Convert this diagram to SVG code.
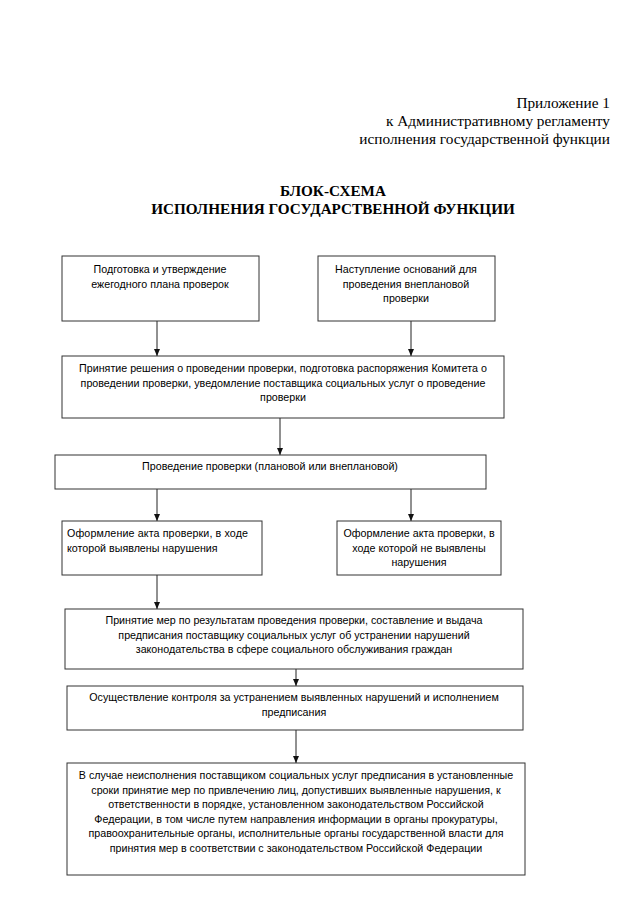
<svg xmlns="http://www.w3.org/2000/svg" width="640" height="905" viewBox="0 0 640 905">
<defs>
<marker id="ah" markerWidth="7" markerHeight="6" refX="7" refY="3" orient="auto" markerUnits="userSpaceOnUse" viewBox="0 0 7 6">
<path d="M0,0 L7,3 L0,6 Z" fill="#111"/>
</marker>
</defs>
<style>
.hdr{font-family:"Liberation Serif","Times New Roman",serif;font-size:15.3px;fill:#000}
.ttl{font-family:"Liberation Serif","Times New Roman",serif;font-size:15.2px;font-weight:bold;fill:#000}
.box{fill:#fff;stroke:#333;stroke-width:1}
.t{font-family:"Liberation Sans",Arial,sans-serif;font-size:10.7px;fill:#000;text-anchor:middle}
.tl{font-family:"Liberation Sans",Arial,sans-serif;font-size:10.7px;fill:#000}
.c{stroke:#222;stroke-width:1;fill:none}
</style>
<rect width="640" height="905" fill="#fff"/>
<g id="header" text-anchor="end">
<text class="hdr" x="610" y="108">Приложение 1</text>
<text class="hdr" x="610" y="126">к Административному регламенту</text>
<text class="hdr" x="610" y="144">исполнения государственной функции</text>
</g>
<g id="title" text-anchor="middle">
<text class="ttl" x="333" y="196">БЛОК-СХЕМА</text>
<text class="ttl" x="333" y="214">ИСПОЛНЕНИЯ ГОСУДАРСТВЕННОЙ ФУНКЦИИ</text>
</g>
<g id="connectors">
<line class="c" x1="157" y1="321" x2="157" y2="356" marker-end="url(#ah)"/>
<line class="c" x1="411" y1="321" x2="411" y2="356" marker-end="url(#ah)"/>
<line class="c" x1="280" y1="418" x2="280" y2="455" marker-end="url(#ah)"/>
<line class="c" x1="157" y1="489" x2="157" y2="521" marker-end="url(#ah)"/>
<line class="c" x1="411" y1="489" x2="411" y2="521" marker-end="url(#ah)"/>
<line class="c" x1="157" y1="575" x2="157" y2="609" marker-end="url(#ah)"/>
<line class="c" x1="296" y1="669" x2="296" y2="686" marker-end="url(#ah)"/>
<line class="c" x1="296" y1="730" x2="296" y2="763" marker-end="url(#ah)"/>
</g>
<g id="n1">
<rect class="box" x="62" y="256" width="197" height="65"/>
<text class="t" x="160" y="273">Подготовка и утверждение</text>
<text class="t" x="160" y="287.5">ежегодного плана проверок</text>
</g>
<g id="n2">
<rect class="box" x="318" y="256" width="177" height="65"/>
<text class="t" x="406" y="273">Наступление оснований для</text>
<text class="t" x="406" y="287.5">проведения внеплановой</text>
<text class="t" x="406" y="302">проверки</text>
</g>
<g id="n3">
<rect class="box" x="62" y="356" width="442" height="62"/>
<text class="t" x="283" y="372">Принятие решения о проведении проверки, подготовка распоряжения Комитета о</text>
<text class="t" x="283" y="386.5">проведении проверки, уведомление поставщика социальных услуг о проведение</text>
<text class="t" x="283" y="401">проверки</text>
</g>
<g id="n4">
<rect class="box" x="55" y="455" width="431" height="34"/>
<text class="t" x="270" y="470">Проведение проверки (плановой или внеплановой)</text>
</g>
<g id="n5">
<rect class="box" x="62" y="521" width="200" height="54"/>
<text class="tl" x="67" y="537" textLength="181" lengthAdjust="spacing">Оформление акта проверки, в ходе</text>
<text class="tl" x="67" y="551.5">которой выявлены нарушения</text>
</g>
<g id="n6">
<rect class="box" x="337" y="521" width="164" height="54"/>
<text class="t" x="419" y="537">Оформление акта проверки, в</text>
<text class="t" x="419" y="551.5">ходе которой не выявлены</text>
<text class="t" x="419" y="566">нарушения</text>
</g>
<g id="n7">
<rect class="box" x="65" y="609" width="458" height="60"/>
<text class="t" x="294" y="624">Принятие мер по результатам проведения проверки, составление и выдача</text>
<text class="t" x="294" y="638.5">предписания поставщику социальных услуг  об устранении нарушений</text>
<text class="t" x="294" y="653">законодательства в сфере социального обслуживания граждан</text>
</g>
<g id="n8">
<rect class="box" x="67" y="686" width="456" height="44"/>
<text class="t" x="294" y="701">Осуществление контроля за устранением выявленных нарушений и исполнением</text>
<text class="t" x="294" y="715.5">предписания</text>
</g>
<g id="n9">
<rect class="box" x="67" y="763" width="458" height="112"/>
<text class="t" x="296" y="779">В случае неисполнения поставщиком социальных услуг предписания в установленные</text>
<text class="t" x="296" y="793.5">сроки принятие мер по привлечению лиц, допустивших выявленные нарушения, к</text>
<text class="t" x="296" y="808">ответственности в порядке, установленном законодательством Российской</text>
<text class="t" x="296" y="822.5">Федерации, в том числе путем направления информации в органы прокуратуры,</text>
<text class="t" x="296" y="837">правоохранительные органы, исполнительные органы государственной власти для</text>
<text class="t" x="296" y="851.5">принятия мер в соответствии с законодательством Российской Федерации</text>
</g>
</svg>
